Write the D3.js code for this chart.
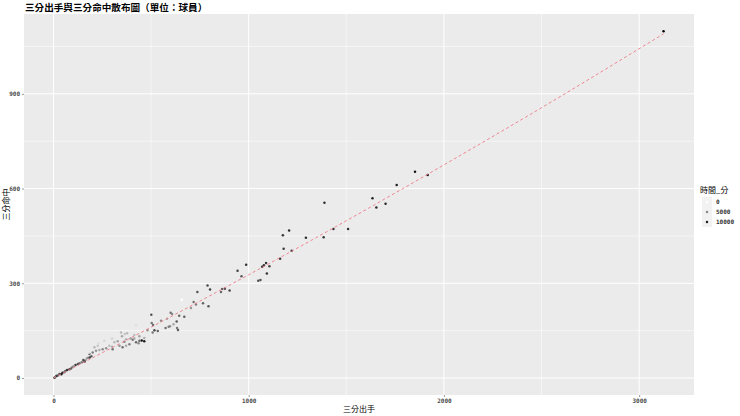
<!DOCTYPE html>
<html>
<head>
<meta charset="utf-8">
<script src="https://cdn.jsdelivr.net/npm/d3@7"></script>
<style>
  body { margin: 0; background: #fff; }
  svg { display: block; font-family: "Noto Sans CJK TC", "Noto Sans", sans-serif; }
</style>
</head>
<body>
<svg width="740" height="416"></svg>
<script>
// Data: three-point attempts, makes and minutes per player
var threePA = [3125, 1917, 1852, 1758, 1701, 1654, 1634, 1509, 1434, 1388, 1384, 1293, 1207, 1175, 1179, 1220,
  1161, 1089, 1078, 1069, 1106, 1093, 1060, 1049, 987, 943, 963, 789, 802, 737, 864, 878, 858, 902, 718, 730,
  766, 794, 657, 670, 704, 600, 607, 644, 631, 582, 501, 503, 510, 517, 534, 551, 423, 574, 597, 590, 633, 638,
  615, 482, 508, 346, 365, 351, 414, 440, 465, 452, 465, 395, 406, 372, 363, 329, 312, 423, 436, 338, 354, 372,
  389, 286, 300, 270, 303, 377, 414, 440, 235, 218, 201, 184, 227, 210, 252,
  194, 174, 153, 133, 113, 97, 82, 61, 46, 31, 15, 5, 8, 22, 40, 55, 70, 90, 105, 125, 145, 165, 185, 160,
  230, 260, 180, 300];
var threePM = [1098, 643, 653, 611, 552, 540, 569, 472, 472, 555, 446, 444, 467, 452, 409, 403,
  378, 364, 357, 352, 354, 331, 310, 308, 359, 340, 322, 293, 280, 272, 282, 283, 272, 277, 241, 233,
  237, 227, 248, 194, 222, 207, 203, 197, 179, 188, 200, 174, 168, 151, 149, 181, 168, 158, 164, 162, 158, 152,
  170, 151, 144, 144, 139, 132, 136, 132, 127, 119, 116, 125, 121, 123, 115, 116, 113, 113, 110, 102, 97, 102,
  107, 102, 99, 94, 91, 142, 125, 118, 89, 86, 81, 76, 102, 97, 91,
  69, 63, 57, 47, 41, 35, 28, 22, 17, 13, 6, 1, 2, 8, 12, 18, 25, 30, 38, 44, 50, 58, 65, 52,
  110, 118, 80, 125];
var minutes = [11500, 10500, 10800, 10200, 9800, 9500, 10000, 9200, 8800, 9500, 9000, 9300, 9400, 9000, 8700, 8900,
  8600, 9000, 9100, 8800, 8200, 9000, 7600, 7800, 9200, 8500, 7200, 7800, 8300, 7500, 7000, 8000, 6500, 8000, 6000, 5500,
  6800, 7300, 200, 7000, 4500, 6000, 5200, 6400, 7200, 3500, 7500, 6000, 6500, 8000, 6800, 5000, 1500, 6200, 4800, 5600, 6000, 7000,
  3800, 4500, 5800, 3000, 2500, 3800, 2800, 4000, 3500, 11000, 10500, 4200, 6000, 3200, 5200, 4000, 3000, 6500, 5000, 4800, 6200, 3600,
  5500, 2800, 3400, 4600, 6000, 3000, 3800, 6500, 3500, 4500, 5500, 6500, 2500, 3000, 5000,
  7000, 5000, 8000, 6000, 9000, 5500, 8500, 7000, 9500, 8000, 10000, 9000, 6000, 7500, 10500, 6500, 9000, 7000, 4500, 7500, 6000, 4000, 8500, 9000,
  1500, 1800, 1200, 2000];
// Smoothed trend
var smoothX = [0, 500, 1000, 1500, 2000, 2500, 3125];
var smoothY = [0, 161, 327, 498, 675, 856, 1090];
var xTicks = [0, 1000, 2000, 3000];
var yTicks = [0, 300, 600, 900];
var legendBreaks = [0, 5000, 10000];

var points = threePA.map(function(d, i) { return { pa: d, pm: threePM[i], min: minutes[i] }; });

var svg = d3.select("svg");
var panel = { left: 24, right: 694, top: 14, bottom: 395 };

// ggplot style 5% expansion
var xExt = d3.extent(threePA), yExt = d3.extent(threePM);
var xPad = (xExt[1] - xExt[0]) * 0.05, yPad = (yExt[1] - yExt[0]) * 0.05;
var x = d3.scaleLinear().domain([xExt[0] - xPad, xExt[1] + xPad]).range([panel.left, panel.right]);
var y = d3.scaleLinear().domain([yExt[0] - yPad, yExt[1] + yPad]).range([panel.bottom, panel.top]);
var color = d3.scaleLinear().domain(d3.extent(minutes)).range(["#ffffff", "#000000"])
  .interpolate(d3.interpolateLab).clamp(true);

// Panel background
svg.append("rect")
  .attr("x", panel.left).attr("y", panel.top)
  .attr("width", panel.right - panel.left).attr("height", panel.bottom - panel.top)
  .attr("fill", "#ebebeb");

// Minor grid
var xMinor = [500, 1500, 2500], yMinor = [150, 450, 750, 1050];
svg.append("g").selectAll("line").data(xMinor).enter().append("line")
  .attr("x1", d => x(d)).attr("x2", d => x(d)).attr("y1", panel.top).attr("y2", panel.bottom)
  .attr("stroke", "#fff").attr("stroke-width", 0.5);
svg.append("g").selectAll("line").data(yMinor).enter().append("line")
  .attr("y1", d => y(d)).attr("y2", d => y(d)).attr("x1", panel.left).attr("x2", panel.right)
  .attr("stroke", "#fff").attr("stroke-width", 0.5);

// Major grid
svg.append("g").selectAll("line").data(xTicks).enter().append("line")
  .attr("x1", d => x(d)).attr("x2", d => x(d)).attr("y1", panel.top).attr("y2", panel.bottom)
  .attr("stroke", "#fff").attr("stroke-width", 1);
svg.append("g").selectAll("line").data(yTicks).enter().append("line")
  .attr("y1", d => y(d)).attr("y2", d => y(d)).attr("x1", panel.left).attr("x2", panel.right)
  .attr("stroke", "#fff").attr("stroke-width", 1);

// Points
svg.append("g")
  .selectAll("circle")
  .data(points)
  .enter()
  .append("circle")
    .attr("cx", d => x(d.pa))
    .attr("cy", d => y(d.pm))
    .attr("r", 1.25)
    .attr("fill", d => color(d.min));

// Smooth trend, dashed
svg.append("path")
  .datum(smoothX.map((d, i) => [d, smoothY[i]]))
  .attr("d", d3.line().x(d => x(d[0])).y(d => y(d[1])).curve(d3.curveMonotoneX))
  .attr("fill", "none")
  .attr("stroke", "#ee7b86")
  .attr("stroke-width", 0.9)
  .attr("stroke-dasharray", "3,2.5");

// Axes
var xAxis = svg.append("g")
  .attr("transform", "translate(0," + panel.bottom + ")")
  .call(d3.axisBottom(x).tickValues(xTicks).tickFormat(d3.format("d")).tickSize(2).tickPadding(2));
var yAxis = svg.append("g")
  .attr("transform", "translate(" + panel.left + ",0)")
  .call(d3.axisLeft(y).tickValues(yTicks).tickFormat(d3.format("d")).tickSize(2).tickPadding(2));
[xAxis, yAxis].forEach(function(a) {
  a.select(".domain").remove();
  a.selectAll(".tick line").attr("stroke", "#333").attr("stroke-width", 0.5);
  a.selectAll(".tick text")
    .attr("fill", "#4d4d4d")
    .style("font-family", "DejaVu Sans Mono, monospace")
    .style("font-weight", "bold")
    .style("font-size", "6px");
});

// Titles
svg.append("text")
  .attr("x", 25).attr("y", 11)
  .style("font-size", "9.6px").style("font-weight", "bold")
  .text("三分出手與三分命中散布圖（單位：球員）");
svg.append("text")
  .attr("x", (panel.left + panel.right) / 2).attr("y", 412)
  .attr("text-anchor", "middle")
  .style("font-size", "8px")
  .text("三分出手");
svg.append("text")
  .attr("transform", "translate(9," + (panel.top + panel.bottom) / 2 + ") rotate(-90)")
  .attr("text-anchor", "middle")
  .style("font-size", "8px")
  .text("三分命中");

// Legend
var legend = svg.append("g").attr("transform", "translate(700,0)");
legend.append("text")
  .attr("x", 0).attr("y", 193)
  .style("font-size", "8px")
  .text("時間_分");
var keys = legend.selectAll("g.key").data(legendBreaks).enter().append("g")
  .attr("class", "key")
  .attr("transform", (d, i) => "translate(0," + (197 + i * 10) + ")");
keys.append("rect")
  .attr("x", 2).attr("y", 0).attr("width", 10).attr("height", 10)
  .attr("fill", "#f2f2f2");
keys.append("circle")
  .attr("cx", 7).attr("cy", 5).attr("r", 1.25)
  .attr("fill", d => color(d));
keys.append("text")
  .attr("x", 16).attr("y", 7)
  .style("font-family", "DejaVu Sans Mono, monospace")
  .style("font-weight", "bold")
  .style("font-size", "6px")
  .attr("fill", "#333")
  .text(d => d);
</script>
</body>
</html>
